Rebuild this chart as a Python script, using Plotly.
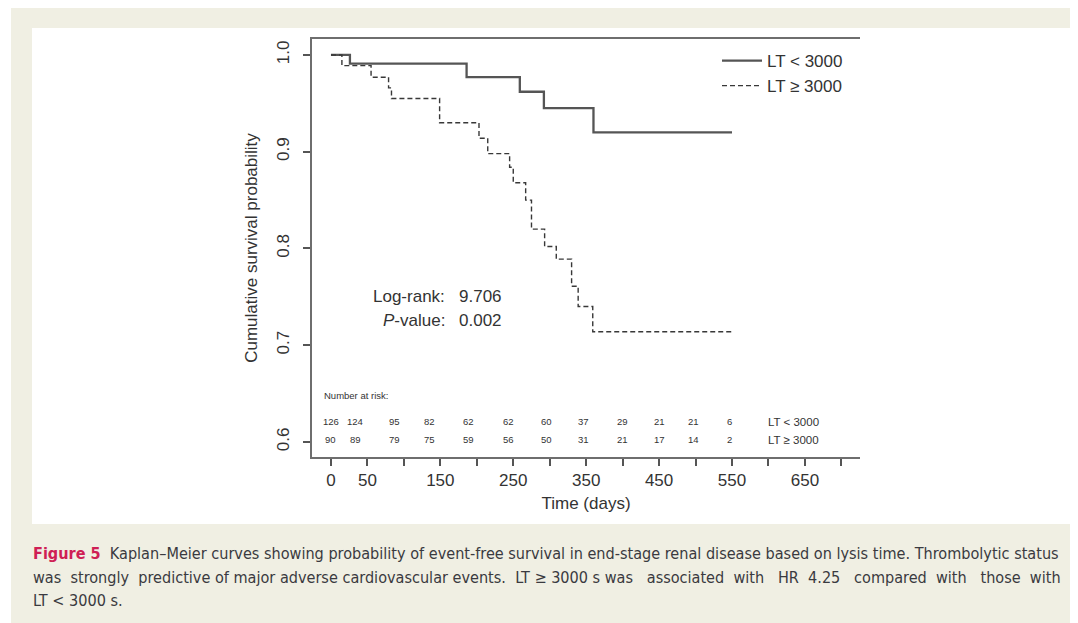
import plotly.graph_objects as go

# ---------------- data ----------------
lt_lo_name = "LT < 3000"
lt_hi_name = "LT ≥ 3000"

lt_lo_days = [0, 26, 186, 259, 292, 360, 550]
lt_lo_surv = [1.0, 0.991, 0.977, 0.962, 0.945, 0.920, 0.920]

lt_hi_days = [0, 15, 55, 79, 83, 149, 203, 215, 245, 250, 267, 275, 293, 309, 330, 339, 359, 550]
lt_hi_surv = [1.0, 0.989, 0.977, 0.966, 0.955, 0.930, 0.914, 0.898, 0.884, 0.868,
              0.850, 0.820, 0.802, 0.789, 0.761, 0.740, 0.714, 0.714]

risk_days = [0, 33, 87, 135, 188, 244, 295, 346, 400, 450, 497, 546]
risk_lo = [126, 124, 95, 82, 62, 62, 60, 37, 29, 21, 21, 6]
risk_hi = [90, 89, 79, 75, 59, 56, 50, 31, 21, 17, 14, 2]

x_tickvals = list(range(0, 701, 50))
x_ticktext = ["0", "50", "", "150", "", "250", "", "350", "", "450", "", "550", "", "650", ""]
y_tickvals = [0.6, 0.7, 0.8, 0.9, 1.0]
y_ticktext = ["0.6", "0.7", "0.8", "0.9", "1.0"]

log_rank = "9.706"
p_value = "0.002"

NB = "&nbsp;"
NB2 = "&nbsp;&nbsp;"
caption_lines = [
    "<b><span style='color:#cf1f55'>Figure 5</span></b>  Kaplan–Meier curves showing probability of event-free survival in end-stage renal disease based on lysis time. Thrombolytic status",
    "was" + NB + " strongly" + NB + " predictive of major adverse cardiovascular events." + NB + " LT ≥ 3000 s was"
    + NB2 + " associated" + NB + " with" + NB2 + " HR" + NB + " 4.25" + NB2 + " compared" + NB + " with" + NB2 + " those" + NB + " with",
    "LT < 3000 s.",
]

# ---------------- layout geometry (reference page pixels) ----------------
OFF = 8                      # default body margin of the html page
W, H = 1078 - OFF, 623 - OFF
L, R, T, B = 312, 860, 39, 457
pw, ph = R - L, B - T


def px(x):
    return (x - L) / pw


def py(y):
    return (B - y) / ph


FONT = "Liberation Sans, Arial, Helvetica, sans-serif"
TXT = "#333333"
BEIGE = "#f0efe3"

fig = go.Figure()
fig.add_trace(go.Scatter(x=lt_lo_days, y=lt_lo_surv, mode="lines", line_shape="hv",
                         name=lt_lo_name, line=dict(color="#555555", width=2.3)))
fig.add_trace(go.Scatter(x=lt_hi_days, y=lt_hi_surv, mode="lines", line_shape="hv",
                         name=lt_hi_name, line=dict(color="#383838", width=1.4, dash="5px,3px")))

shapes = [
    dict(type="rect", xref="paper", yref="paper", x0=px(32), x1=px(1072), y0=py(524), y1=py(28),
         fillcolor="white", line=dict(width=0), layer="below"),
    dict(type="rect", xref="paper", yref="paper", x0=px(OFF), x1=px(11), y0=py(H + OFF), y1=py(OFF),
         fillcolor="white", line=dict(width=0), layer="below"),
]

ann = []
ann.append(dict(x=-12, y=0.6476, xref="x", yref="y", text="Number at risk:", showarrow=False,
                xanchor="left", font=dict(size=9.5, color=TXT, family=FONT)))
for d, a, b in zip(risk_days, risk_lo, risk_hi):
    ann.append(dict(x=d, y=0.6207, xref="x", yref="y", text=str(a), showarrow=False,
                    font=dict(size=9.5, color=TXT, family=FONT)))
    ann.append(dict(x=d, y=0.6021, xref="x", yref="y", text=str(b), showarrow=False,
                    font=dict(size=9.5, color=TXT, family=FONT)))
ann.append(dict(x=596, y=0.6207, xref="x", yref="y", text=lt_lo_name, showarrow=False,
                xanchor="left", font=dict(size=11.5, color=TXT, family=FONT)))
ann.append(dict(x=596, y=0.6021, xref="x", yref="y", text=lt_hi_name, showarrow=False,
                xanchor="left", font=dict(size=11.5, color=TXT, family=FONT)))

ann.append(dict(x=159, y=0.750, xref="x", yref="y", text="Log-rank:", showarrow=False,
                xanchor="right", font=dict(size=17, color=TXT, family=FONT)))
ann.append(dict(x=173, y=0.750, xref="x", yref="y", text=log_rank, showarrow=False,
                xanchor="left", font=dict(size=17, color=TXT, family=FONT)))
ann.append(dict(x=159, y=0.726, xref="x", yref="y", text="<i>P</i>-value:", showarrow=False,
                xanchor="right", font=dict(size=17, color=TXT, family=FONT)))
ann.append(dict(x=173, y=0.726, xref="x", yref="y", text=p_value, showarrow=False,
                xanchor="left", font=dict(size=17, color=TXT, family=FONT)))

cap_y = [553, 577, 600]
for line, yy in zip(caption_lines, cap_y):
    ann.append(dict(x=px(31), y=py(yy), xref="paper", yref="paper", text=line, showarrow=False,
                    xanchor="left", yanchor="middle",
                    font=dict(size=16.1, color="#3a3a40",
                              family="Liberation Sans Narrow, DejaVu Sans Condensed, Arial Narrow, Liberation Sans, sans-serif")))

fig.update_layout(
    width=W, height=H,
    margin=dict(l=L - OFF, r=W - (R - OFF), t=T - OFF, b=H - (B - OFF), pad=0),
    paper_bgcolor=BEIGE, plot_bgcolor="white",
    font=dict(family=FONT, color=TXT, size=17),
    shapes=shapes, annotations=ann,
    showlegend=True,
    legend=dict(x=px(717), y=py(43), xanchor="left", yanchor="top", bgcolor="rgba(0,0,0,0)",
                font=dict(size=17, color=TXT, family=FONT), tracegroupgap=0, itemwidth=40),
    xaxis=dict(range=[-26, 725.5], tickvals=x_tickvals, ticktext=x_ticktext,
               showgrid=False, zeroline=False, showline=True, mirror=True,
               linecolor="#6e6e6e", linewidth=2, ticks="outside", ticklen=7, tickwidth=1.5,
               tickcolor="#555555", tickfont=dict(size=17, color=TXT),
               title=dict(text="Time (days)", font=dict(size=17, color=TXT), standoff=8)),
    yaxis=dict(range=[0.5845, 1.0165], tickvals=y_tickvals, ticktext=y_ticktext,
               showgrid=False, zeroline=False, showline=True, mirror=False,
               linecolor="#6e6e6e", linewidth=2, ticks="outside", ticklen=7, tickwidth=1.5,
               tickcolor="#555555", tickfont=dict(size=17, color=TXT), tickangle=-90,
               ticklabelstandoff=7,
               title=dict(text="Cumulative survival probability", font=dict(size=17, color=TXT), standoff=12)),
)

fig.write_html("out.html")
